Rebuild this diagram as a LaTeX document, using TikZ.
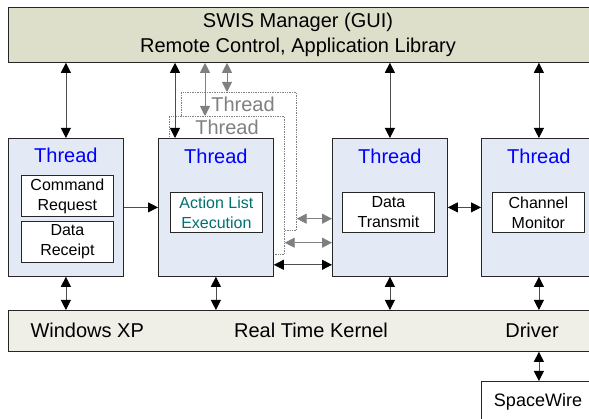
\documentclass[tikz,border=0pt]{standalone}
\usepackage{fontspec}
\setmainfont{Liberation Sans}
\usetikzlibrary{arrows.meta,positioning,calc}
\definecolor{mgrfill}{RGB}{221,223,203}
\definecolor{krnfill}{RGB}{239,239,231}
\definecolor{thrfill}{RGB}{227,233,245}
\definecolor{thrblue}{RGB}{0,0,255}
\definecolor{acttext}{RGB}{0,112,112}

\begin{document}
\begin{tikzpicture}[x=1pt,y=-1pt,
  box/.style={draw=black!85, line width=0.8pt, anchor=north west, inner sep=0pt},
  thread/.style={box, fill=thrfill, minimum width=115pt, minimum height=138pt},
  ghost/.style={draw=gray, densely dotted, line width=0.7pt, fill=white, anchor=north west,
    inner sep=0pt, minimum width=115pt, minimum height=138pt},
  task/.style={box, fill=white, minimum width=92pt, minimum height=40pt, align=center,
    font=\fontsize{16}{20}\selectfont},
  lbl/.style={font=\fontsize{20}{25}\selectfont, align=center},
  tlbl/.style={lbl, text=thrblue},
  glbl/.style={lbl, text=gray},
  link/.style={draw=black!70, line width=0.8pt,
    {Triangle[length=10pt,width=10pt,color=black]}-{Triangle[length=10pt,width=10pt,color=black]}},
  glink/.style={draw=gray, line width=0.8pt,
    {Triangle[length=10pt,width=10pt]}-{Triangle[length=10pt,width=10pt]}},
  onelink/.style={draw=black!70, line width=0.8pt, -{Triangle[length=10pt,width=10pt,color=black]}}
]
  \clip (0,0) rectangle (589,419);

  % layers
  \node[box, fill=mgrfill, minimum width=600pt, minimum height=55pt] (mgr) at (8,7) {};
  \node[lbl] (mgrtxt) at (298,35) {SWIS Manager (GUI)\\Remote Control, Application Library};
  \node[box, fill=krnfill, minimum width=600pt, minimum height=41pt] (krn) at (8,310) {};
  \node[lbl, anchor=west] (win) at (27,330) {Windows XP};
  \node[lbl] (rtk) at (311,330) {Real Time Kernel};
  \node[lbl] (drv) at (532,330) {Driver};
  \node[box, fill=white, minimum width=115pt, minimum height=50pt] (sw) at (481,381) {};
  \node[font=\fontsize{18}{22}\selectfont] (swtxt) at (538,402) {SpaceWire};

  % threads
  \node[thread] (t1) at (8,138) {};
  \node[ghost] (g2) at (181,92) {};
  \node[ghost] (g1) at (169,116) {};
  \node[thread] (t2) at (158,138) {};
  \node[thread] (t3) at (332,138) {};
  \node[thread] (t4) at (481,138) {};

  \node[glbl] (g2lbl) at (243,104) {Thread};
  \node[glbl] (g1lbl) at (227,127) {Thread};
  \node[tlbl] (t1lbl) at ($(t1.north)+(0,17)$) {Thread};
  \node[tlbl] (t2lbl) at ($(t2.north)+(0,18)$) {Thread};
  \node[tlbl] (t3lbl) at ($(t3.north)+(0,18)$) {Thread};
  \node[tlbl] (t4lbl) at ($(t4.north)+(0,18)$) {Thread};

  \node[task, minimum height=41pt] (cr) at (21,175) {Command\\Request};
  \node[task, minimum height=41pt] (dr) at (21,221) {Data\\Receipt};
  \node[task, text=acttext] (al) at (170,192) {Action List\\Execution};
  \node[task] (dt) at (342,192) {Data\\Transmit};
  \node[task] (cm) at (492,192) {Channel\\Monitor};

  % connectors
  \coordinate (t2top) at ($(t2.north west)+(17,0)$);
  \coordinate (g1top) at ($(g1.north west)+(36,0)$);
  \coordinate (g2top) at ($(g2.north west)+(46,0)$);
  \coordinate (g2out) at ($(g2.south east)+(0,-12)$);
  \coordinate (g1out) at ($(g1.south east)+(0,-12)$);
  \coordinate (t2out) at ($(t2.south east)+(0,-12)$);
  \draw[link] (t1.north) -- (t1.north |- mgr.south);
  \draw[link] (t2top) -- (t2top |- mgr.south);
  \draw[glink] (g1top) -- (g1top |- mgr.south);
  \draw[glink] (g2top) -- (g2top |- mgr.south);
  \draw[link] (t3.north) -- (t3.north |- mgr.south);
  \draw[link] (t4.north) -- (t4.north |- mgr.south);

  \draw[onelink] (t1.east) -- (t2.west);
  \draw[glink] (g2out) -- (g2out -| t3.west);
  \draw[glink] (g1out) -- (g1out -| t3.west);
  \draw[link] (t2out) -- (t2out -| t3.west);
  \draw[link] (t3.east) -- (t4.west);

  \draw[link] (t1.south) -- (t1.south |- krn.north);
  \draw[link] (t2.south) -- (t2.south |- krn.north);
  \draw[link] (t3.south) -- (t3.south |- krn.north);
  \draw[link] (t4.south) -- (t4.south |- krn.north);
  \draw[link] (sw.north) -- (sw.north |- krn.south);
\end{tikzpicture}
\end{document}
